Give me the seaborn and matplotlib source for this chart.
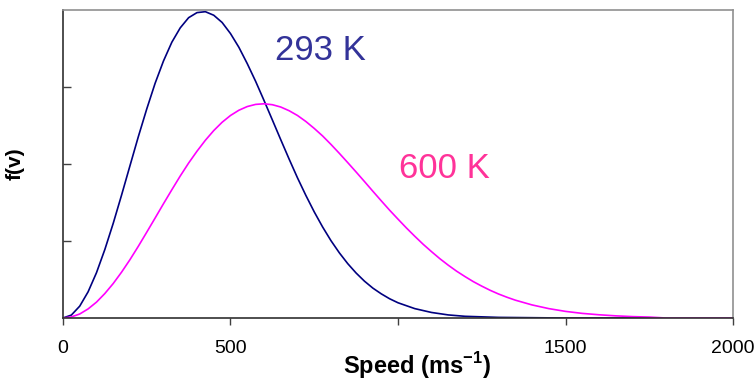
import numpy as np
import pandas as pd
import seaborn as sns
import matplotlib.pyplot as plt

# Speed grid (m/s) and f(v) readings (x 1e-3) for each temperature
speed_293 = [0, 25, 50, 75, 100, 125, 150, 175, 200, 225, 250, 275, 300, 325,
             350, 375, 400, 425, 450, 475, 500, 525, 550, 575, 600, 625, 650,
             675, 700, 725, 750, 775, 800, 825, 850, 875, 900, 925, 950, 975,
             1000, 1050, 1100, 1150, 1200, 1300, 1400, 1500, 1600, 1750]
f_293 = [0.0, 0.019, 0.077, 0.170, 0.294, 0.445, 0.615, 0.799, 0.989, 1.178,
         1.357, 1.524, 1.669, 1.791, 1.884, 1.950, 1.983, 1.989, 1.966, 1.919,
         1.847, 1.758, 1.652, 1.537, 1.413, 1.286, 1.158, 1.032, 0.910, 0.796,
         0.689, 0.591, 0.502, 0.423, 0.353, 0.292, 0.239, 0.194, 0.157, 0.125,
         0.099, 0.061, 0.036, 0.020, 0.011, 0.004, 0.002, 0.0, 0.0, 0.0]

speed_600 = [0, 25, 50, 75, 100, 125, 150, 175, 200, 225, 250, 275, 300, 325,
             350, 375, 400, 425, 450, 475, 500, 525, 550, 575, 600, 625, 650,
             675, 700, 725, 750, 775, 800, 825, 850, 875, 900, 925, 950, 975,
             1000, 1025, 1050, 1075, 1100, 1125, 1150, 1175, 1200, 1225, 1250,
             1275, 1300, 1325, 1350, 1400, 1450, 1500, 1550, 1600, 1650, 1700,
             1750, 1800, 2000]
f_600 = [0.0, 0.007, 0.026, 0.059, 0.103, 0.159, 0.224, 0.298, 0.379, 0.466,
         0.557, 0.649, 0.742, 0.833, 0.922, 1.006, 1.083, 1.154, 1.217, 1.271,
         1.315, 1.349, 1.373, 1.387, 1.391, 1.385, 1.370, 1.346, 1.315, 1.276,
         1.231, 1.182, 1.127, 1.069, 1.009, 0.948, 0.886, 0.823, 0.761, 0.700,
         0.642, 0.585, 0.531, 0.479, 0.431, 0.385, 0.343, 0.304, 0.269, 0.236,
         0.207, 0.180, 0.156, 0.135, 0.116, 0.085, 0.061, 0.043, 0.030, 0.021,
         0.014, 0.009, 0.006, 0.0, 0.0]

x_ticks = [0, 500, 1000, 1500, 2000]
# the 1000 label sits under the axis title in the original, so it is not shown
x_tick_labels = ['0', '500', '', '1500', '2000']
y_ticks = [0.5, 1.0, 1.5]

df = pd.concat([
    pd.DataFrame({'speed': speed_293, 'f': f_293, 'T': '293 K'}),
    pd.DataFrame({'speed': speed_600, 'f': f_600, 'T': '600 K'}),
])

sns.set_style('white')
plt.rcParams['font.family'] = ['Liberation Sans', 'DejaVu Sans']
plt.rcParams['mathtext.fontset'] = 'custom'
plt.rcParams['mathtext.rm'] = 'Liberation Sans'
plt.rcParams['mathtext.bf'] = 'Liberation Sans:bold'

fig = plt.figure(figsize=(7.56, 3.83), dpi=100)
ax = fig.add_axes([0.0833, 0.1697, 0.8863, 0.8042])

sns.lineplot(data=df, x='speed', y='f', hue='T',
             palette={'293 K': '#000080', '600 K': '#ff00ff'},
             linewidth=1.2, legend=False, ax=ax)

ax.set_xlim(0, 2000)
ax.set_ylim(0, 2.0)
ax.set_xticks(x_ticks)
ax.set_xticklabels(x_tick_labels, fontsize=14, color='black')
ax.set_yticks(y_ticks)
ax.set_yticklabels([])
ax.tick_params(axis='x', bottom=True, direction='out', length=5, width=1,
               color='#404040', pad=11)
ax.tick_params(axis='y', left=True, direction='in', length=6, width=1,
               color='#404040')

for side in ['left', 'bottom']:
    ax.spines[side].set_color('#303030')
    ax.spines[side].set_linewidth(1.2)
for side in ['top', 'right']:
    ax.spines[side].set_visible(True)
    ax.spines[side].set_color('#909090')
    ax.spines[side].set_linewidth(1.2)

ax.set_xlabel(r'Speed (ms$^{\mathbf{-1}}$)', fontsize=17, fontweight='bold', color='black')
ax.xaxis.set_label_coords(0.528, -0.105)
ax.set_ylabel('f(v)', fontsize=15, fontweight='bold', color='black')
ax.yaxis.set_label_coords(-0.057, 0.5)

ax.text(633, 1.675, '293 K', color='#333399', fontsize=25)
ax.text(1003, 0.909, '600 K', color='#ff3399', fontsize=25)

fig.savefig('out.png', dpi=100)
